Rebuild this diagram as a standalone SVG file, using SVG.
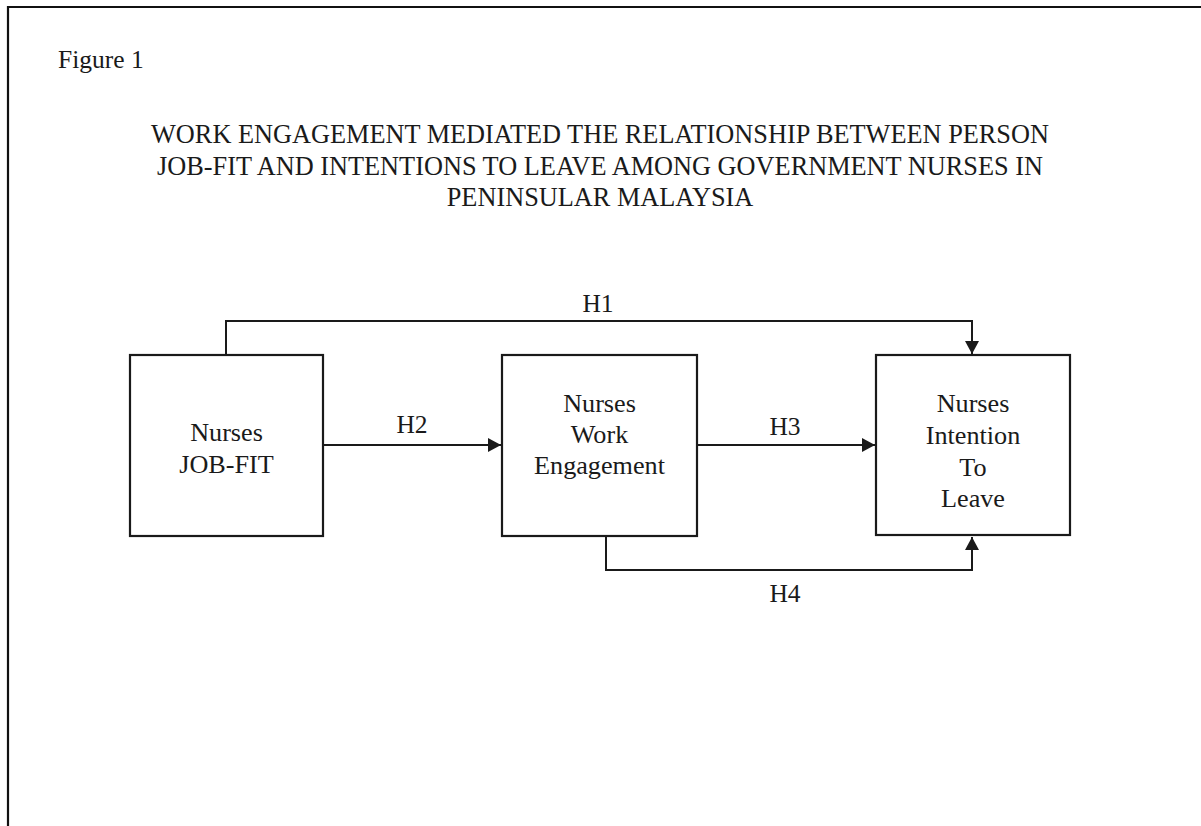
<svg xmlns="http://www.w3.org/2000/svg" width="1201" height="826" viewBox="0 0 1201 826">
<style>
text{font-family:"Liberation Serif","Times New Roman",serif;font-size:25.5px;fill:#1a1a1a;text-anchor:middle}
#title text{font-size:26.3px}
.node text{font-size:26.2px}
.box{fill:#fff;stroke:#1a1a1a;stroke-width:2.2}
.conn{fill:none;stroke:#1a1a1a;stroke-width:2}
</style>
<defs>
<marker id="arr" viewBox="0 0 13 14" refX="13" refY="7" markerWidth="13" markerHeight="14" markerUnits="userSpaceOnUse" orient="auto">
<path d="M0,0 L13,7 L0,14 Z" fill="#1a1a1a"/>
</marker>
</defs>
<rect width="1201" height="826" fill="#fff"/>
<path d="M8,826 L8,7 L1201,7" fill="none" stroke="#111" stroke-width="2.2"/>
<text x="58" y="68" style="text-anchor:start">Figure 1</text>
<g id="title">
<text x="600" y="143">WORK ENGAGEMENT MEDIATED THE RELATIONSHIP BETWEEN PERSON</text>
<text x="600" y="175">JOB-FIT AND INTENTIONS TO LEAVE AMONG GOVERNMENT NURSES IN</text>
<text x="600" y="206">PENINSULAR MALAYSIA</text>
</g>
<g id="connectors">
<path class="conn" d="M226,355 L226,321 L972,321 L972,354" marker-end="url(#arr)"/>
<path class="conn" d="M323,445 L501,445" marker-end="url(#arr)"/>
<path class="conn" d="M697,445 L875,445" marker-end="url(#arr)"/>
<path class="conn" d="M606,536 L606,570 L972,570 L972,537" marker-end="url(#arr)"/>
<text x="598" y="312">H1</text>
<text x="412" y="433">H2</text>
<text x="785" y="435">H3</text>
<text x="785" y="602">H4</text>
</g>
<g id="node-jobfit" class="node">
<rect class="box" x="130" y="355" width="193" height="181"/>
<text x="226.5" y="441">Nurses</text>
<text x="226.5" y="473">JOB-FIT</text>
</g>
<g id="node-engagement" class="node">
<rect class="box" x="502" y="355" width="195" height="181"/>
<text x="599.5" y="412">Nurses</text>
<text x="599.5" y="443">Work</text>
<text x="599.5" y="474">Engagement</text>
</g>
<g id="node-intention" class="node">
<rect class="box" x="876" y="355" width="194" height="180"/>
<text x="973" y="412">Nurses</text>
<text x="973" y="444">Intention</text>
<text x="973" y="476">To</text>
<text x="973" y="507">Leave</text>
</g>
</svg>
